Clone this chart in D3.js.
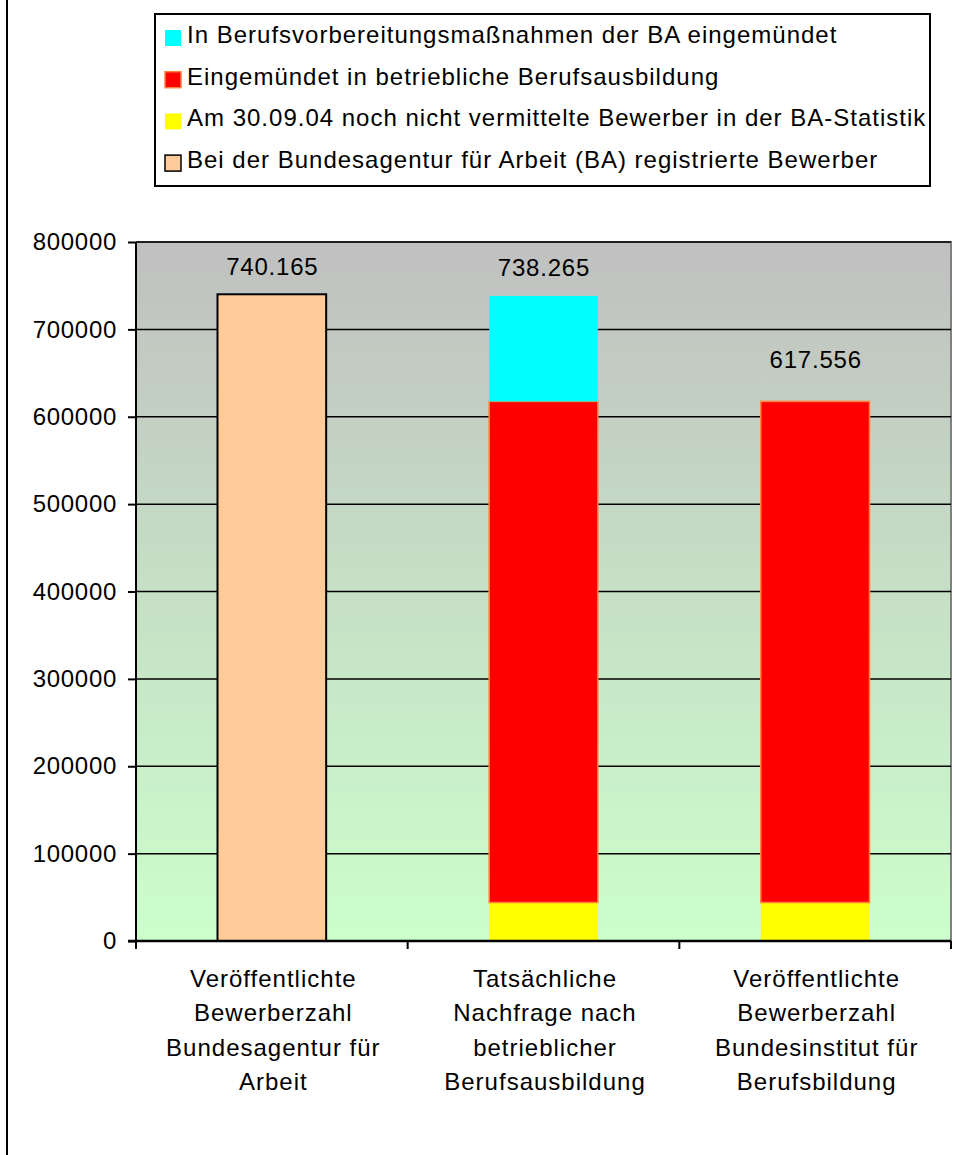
<!DOCTYPE html>
<html><head><meta charset="utf-8">
<script src="https://cdn.jsdelivr.net/npm/d3@7/dist/d3.min.js"></script>
<style>body{margin:0;background:#fff}svg{display:block}text{font-family:"Liberation Sans",Arial,sans-serif;fill:#000}</style>
</head><body>
<svg id="c" width="956" height="1155"></svg>
<script>
const categories = [
  ["Veröffentlichte","Bewerberzahl","Bundesagentur für","Arbeit"],
  ["Tatsächliche","Nachfrage nach","betrieblicher","Berufsausbildung"],
  ["Veröffentlichte","Bewerberzahl","Bundesinstitut für","Berufsbildung"]
];
const registriert   = [740165, 0, 0];
const nichtVermittelt = [0, 44084, 44084];
const betrieblich   = [0, 573472, 573472];
const berufsvorb    = [0, 120709, 0];
const totalLabels   = ["740.165","738.265","617.556"];
const totals        = [740165, 738265, 617556];
const yTicks = [0,100000,200000,300000,400000,500000,600000,700000,800000];
const legendLabels = [
  "In Berufsvorbereitungsmaßnahmen der BA eingemündet",
  "Eingemündet in betriebliche Berufsausbildung",
  "Am 30.09.04 noch nicht vermittelte Bewerber in der BA-Statistik",
  "Bei der Bundesagentur für Arbeit (BA) registrierte Bewerber"
];

const svg = d3.select("#c");
const L = 136, R = 951, T = 242, B = 941;
const x = d3.scaleBand().domain([0,1,2]).range([L,R]).paddingInner(0.6).paddingOuter(0.3);
const y = d3.scaleLinear().domain([0,800000]).range([B,T]);

// outer frame line
svg.append("line").attr("x1",7).attr("x2",7).attr("y1",0).attr("y2",1155).attr("stroke","#000").attr("stroke-width",2);

// gradient
const defs = svg.append("defs");
const g = defs.append("linearGradient").attr("id","bg").attr("x1",0).attr("x2",0).attr("y1",0).attr("y2",1);
g.append("stop").attr("offset","0%").attr("stop-color","#c0c0c0");
g.append("stop").attr("offset","100%").attr("stop-color","#ccffcc");
svg.append("rect").attr("x",L).attr("y",T).attr("width",R-L).attr("height",B-T).attr("fill","url(#bg)");
svg.append("path").attr("d",`M${L},${T}H${R}V${B}`).attr("fill","none").attr("stroke","#808080").attr("stroke-width",2);

// gridlines
svg.append("g").selectAll("line").data(yTicks.filter(d=>d>0)).join("line")
  .attr("x1",L).attr("x2",R).attr("y1",d=>y(d)).attr("y2",d=>y(d)).attr("stroke","#000").attr("stroke-width",1.5);

// bars
const series = [
  {vals:nichtVermittelt, fill:"#ffff00", stroke:"none"},
  {vals:betrieblich, fill:"#ff0000", stroke:"#ff7f3f"},
  {vals:berufsvorb, fill:"#00ffff", stroke:"none"}
];
svg.append("g").selectAll("rect").data(registriert.map((v,i)=>({v,i})).filter(d=>d.v>0)).join("rect")
  .attr("x",d=>x(d.i)).attr("width",x.bandwidth()).attr("y",d=>y(d.v)).attr("height",d=>B-y(d.v))
  .attr("fill","#ffcc99").attr("stroke","#000").attr("stroke-width",2);
const base = [0,0,0];
series.forEach(s=>{
  const data = s.vals.map((v,i)=>({v,i,b:base[i]}));
  s.vals.forEach((v,i)=>base[i]+=v);
  svg.append("g").selectAll("rect").data(data.filter(d=>d.v>0)).join("rect")
    .attr("x",d=>x(d.i)).attr("width",x.bandwidth())
    .attr("y",d=>y(d.b+d.v)).attr("height",d=>y(d.b)-y(d.b+d.v))
    .attr("fill",s.fill).attr("stroke",s.stroke).attr("stroke-width",s.stroke==="none"?0:1.5);
});

// value labels
const labOff = [19,20,33];
svg.append("g").selectAll("text").data(totals).join("text")
  .attr("x",(d,i)=>x(i)+x.bandwidth()/2+0.5).attr("y",(d,i)=>y(d)-labOff[i])
  .attr("text-anchor","middle").attr("font-size",24).attr("letter-spacing",0.8).text((d,i)=>totalLabels[i]);

// y axis
const ya = svg.append("g").attr("transform",`translate(${L},0)`)
  .call(d3.axisLeft(y).tickValues(yTicks).tickSize(8).tickPadding(11).tickFormat(d3.format("d")));
ya.select(".domain").remove();
ya.selectAll(".tick line").attr("stroke","#000").attr("stroke-width",2);
ya.selectAll(".tick text").attr("font-size",24).attr("letter-spacing",0.7).attr("font-family","Liberation Sans, Arial, sans-serif").attr("fill","#000");
svg.append("line").attr("x1",L).attr("x2",L).attr("y1",T).attr("y2",B+8).attr("stroke","#000").attr("stroke-width",2);

// x axis
svg.append("line").attr("x1",L-8).attr("x2",R).attr("y1",B).attr("y2",B).attr("stroke","#000").attr("stroke-width",2.5);
const bounds = [0,1,2,3].map(i=>L+i*x.step());
svg.append("g").selectAll("line").data(bounds).join("line")
  .attr("x1",d=>d).attr("x2",d=>d).attr("y1",B).attr("y2",B+8).attr("stroke","#000").attr("stroke-width",2);

// category labels
const cl = svg.append("g").selectAll("text").data(categories).join("text")
  .attr("text-anchor","middle").attr("font-size",24).attr("letter-spacing",1)
  .attr("x",(d,i)=>x(i)+x.bandwidth()/2+1.5).attr("y",987);
cl.selectAll("tspan").data(d=>d).join("tspan")
  .attr("x",function(){return this.parentNode.getAttribute("x");})
  .attr("dy",(d,j)=>j===0?0:34.3).text(d=>d);

// legend
svg.append("rect").attr("x",155).attr("y",14).attr("width",775).attr("height",172)
  .attr("fill","#fff").attr("stroke","#000").attr("stroke-width",2);
const lsw = [
  {fill:"#00ffff",stroke:"none"},
  {fill:"#ff0000",stroke:"#ff7f3f"},
  {fill:"#ffff00",stroke:"none"},
  {fill:"#ffcc99",stroke:"#000"}
];
const li = svg.append("g").selectAll("g").data(legendLabels).join("g")
  .attr("transform",(d,i)=>`translate(0,${43+i*41.7})`);
li.append("rect").attr("x",165).attr("y",-13).attr("width",16).attr("height",16)
  .attr("fill",(d,i)=>lsw[i].fill).attr("stroke",(d,i)=>lsw[i].stroke).attr("stroke-width",(d,i)=>lsw[i].stroke==="none"?0:1.5);
li.append("text").attr("x",187).attr("y",0).attr("font-size",24).attr("letter-spacing",1).text(d=>d);
</script>
</body></html>
